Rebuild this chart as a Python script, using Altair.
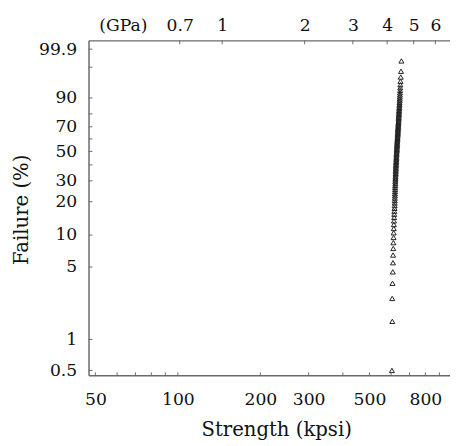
import math
import altair as alt
import pandas as pd

# ---- data ----
failure_pct = [
    0.5, 1.5, 2.5, 3.5, 4.5, 5.5, 6.5, 7.5, 8.5, 9.5,
    10.5, 11.5, 12.5, 13.5, 14.5, 15.5, 16.5, 17.5, 18.5, 19.5,
    20.5, 21.5, 22.5, 23.5, 24.5, 25.5, 26.5, 27.5, 28.5, 29.5,
    30.5, 31.5, 32.5, 33.5, 34.5, 35.5, 36.5, 37.5, 38.5, 39.5,
    40.5, 41.5, 42.5, 43.5, 44.5, 45.5, 46.5, 47.5, 48.5, 49.5,
    50.5, 51.5, 52.5, 53.5, 54.5, 55.5, 56.5, 57.5, 58.5, 59.5,
    60.5, 61.5, 62.5, 63.5, 64.5, 65.5, 66.5, 67.5, 68.5, 69.5,
    70.5, 71.5, 72.5, 73.5, 74.5, 75.5, 76.5, 77.5, 78.5, 79.5,
    80.5, 81.5, 82.5, 83.5, 84.5, 85.5, 86.5, 87.5, 88.5, 89.5,
    90.5, 91.5, 92.5, 93.5, 94.5, 95.5, 96.5, 97.5, 98.5, 99.5,
]
strength_kpsi = [
    604, 606, 605.5, 607, 608.5, 609.5, 610, 611, 611.5, 612.5,
    613, 613.5, 614, 614.5, 615.5, 616, 616.5, 617.5, 618, 618.5,
    618.5, 619, 619.5, 619.5, 620, 620.5, 620.5, 621, 621.5, 621.5,
    622, 622, 622.5, 623, 623.5, 623.5, 624, 624.5, 624.5, 625,
    625.5, 625.5, 626, 626.5, 627, 627, 627.5, 628, 628, 628.5,
    629, 629.5, 629.5, 630, 630.5, 631, 631, 631.5, 632, 632.5,
    633, 633, 633.5, 634, 634.5, 635, 635, 635.5, 636, 636.5,
    637, 637, 637.5, 638, 638.5, 639, 639, 639.5, 640, 640.5,
    641, 641, 641.5, 642, 642.5, 643, 643.5, 644, 644.5, 645,
    645.5, 646, 646.5, 647, 647.5, 648.5, 649, 650.5, 652, 654,
]

y_tick_pct = [0.5, 1, 5, 10, 20, 30, 40, 50, 60, 70, 80, 90, 99, 99.9]
y_unlabeled_pct = [40, 60, 80, 99]
x_label_kpsi = [50, 100, 200, 300, 500, 800]
x_minor_kpsi = [50, 60, 70, 80, 90, 100, 200, 300, 400, 500, 600, 700, 800, 900]
gpa_ticks = [0.7, 1, 2, 3, 4, 5, 6, 7]
KPSI_PER_GPA = 145.038
GPA_TAG_POS = 63.0  # kpsi position of the "(GPa)" tag

X_DOMAIN = [47.2, 984]
Y_DOMAIN = [-5.406, 2.13]

FONT = "DejaVu Serif"
TXT = "#111111"
AX = "#6a6a6a"


def weib(p):
    return math.log(-math.log(1 - p / 100.0))


WEIB_EXPR = "log(-log(1 - datum.pct/100))"

xscale = alt.Scale(type="log", domain=X_DOMAIN, nice=False)
yscale = alt.Scale(type="linear", domain=Y_DOMAIN, nice=False, zero=False)

df = pd.DataFrame({"strength": strength_kpsi, "pct": failure_pct})
ytick_df = pd.DataFrame({"pct": y_tick_pct})
xminor_df = pd.DataFrame({"kpsi": x_minor_kpsi})
gpa_df = pd.DataFrame({"gpa": gpa_ticks})

unl = ",".join(str(v) for v in y_unlabeled_pct)
y_label_expr = (
    f"indexof([{unl}], round(100*(1-exp(-exp(datum.value))))) >= 0 ? '' : "
    "format(100*(1-exp(-exp(datum.value))), '.3~r')"
)

common_axis = dict(ticks=False, grid=False, domain=True, domainColor=AX, domainWidth=1.5,
                   labelFlush=False, labelOverlap=False, labelFont=FONT, labelFontSize=17.5,
                   labelColor=TXT)

points = (
    alt.Chart(df)
    .transform_calculate(W=WEIB_EXPR)
    .mark_point(shape="triangle-up", filled=False, size=26, color="#222222",
                strokeWidth=1, opacity=1)
    .encode(
        x=alt.X("strength:Q", scale=xscale,
                axis=alt.Axis(orient="bottom", values=x_label_kpsi, title="Strength (kpsi)",
                              labelPadding=16, labelBaseline="top", format="~g",
                              titleX=191, titleY=61.5, titleAlign="center",
                              titleBaseline="alphabetic", **common_axis)),
        y=alt.Y("W:Q", scale=yscale,
                axis=alt.Axis(orient="left", values=[weib(v) for v in y_tick_pct],
                              labelExpr=y_label_expr, title="Failure (%)",
                              labelPadding=12, labelAlign="right", labelBaseline="middle",
                              titleAngle=270, titleX=-68, titleY=172, titleAlign="center",
                              titleBaseline="middle", **common_axis)),
    )
)

top = (
    alt.Chart(gpa_df)
    .transform_calculate(kpsi=f"datum.gpa*{KPSI_PER_GPA}")
    .mark_rule(color=AX, strokeWidth=1)
    .encode(
        x=alt.X("kpsi:Q", scale=xscale,
                axis=alt.Axis(orient="top",
                              values=[GPA_TAG_POS] + [g * KPSI_PER_GPA for g in gpa_ticks],
                              labelExpr=f"datum.value < 70 ? '(GPa)' : format(datum.value/{KPSI_PER_GPA}, '.2~r')",
                              title=None, labelPadding=10, labelBaseline="alphabetic",
                              **common_axis)),
        y=alt.value(0),
        y2=alt.value(4),
    )
)

left_ticks = (
    alt.Chart(ytick_df)
    .transform_calculate(W=WEIB_EXPR)
    .mark_rule(color=AX, strokeWidth=1)
    .encode(y=alt.Y("W:Q", scale=yscale, axis=None), x=alt.value(0), x2=alt.value(4))
)

bottom_ticks = (
    alt.Chart(xminor_df)
    .mark_rule(color=AX, strokeWidth=1)
    .encode(x=alt.X("kpsi:Q", scale=xscale, axis=None), y=alt.value(341), y2=alt.value(338))
)

chart = (
    alt.layer(points, top, left_ticks, bottom_ticks)
    .resolve_axis(x="independent", y="independent")
    .properties(width=368, height=341,
                autosize=alt.AutoSizeParams(type="none"),
                padding={"left": 82, "top": 29, "right": 0, "bottom": 68},
                background="white")
    .configure_view(stroke=None)
    .configure_axis(titleFont=FONT, titleFontSize=20, titleFontWeight="normal", titleColor=TXT)
)

chart.save("out.html", embed_options={"renderer": "svg", "actions": False})
